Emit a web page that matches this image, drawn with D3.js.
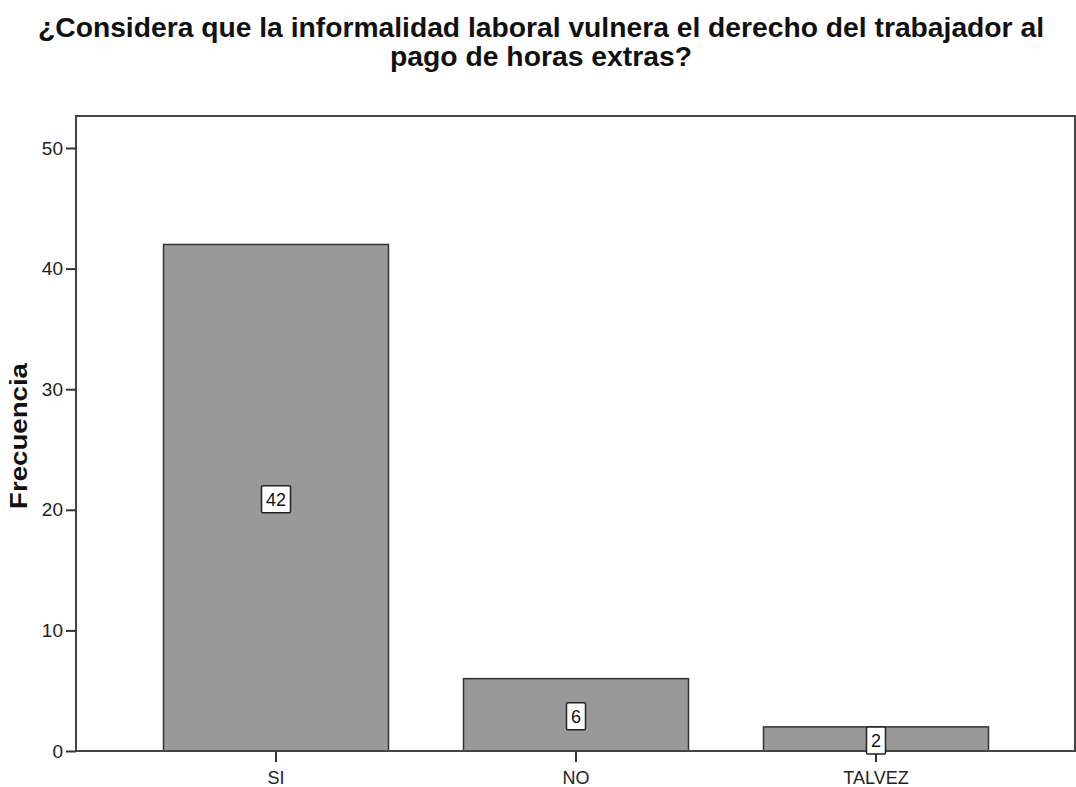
<!DOCTYPE html>
<html><head><meta charset="utf-8">
<script src="https://cdn.jsdelivr.net/npm/d3@7"></script>
<style>body{margin:0;background:#fff}svg{display:block}text{font-family:"Liberation Sans",Arial,sans-serif}</style>
</head><body>
<svg id="c" width="1076" height="787"></svg>
<script>
const categories = ["SI", "NO", "TALVEZ"];
const values = [42, 6, 2];
const yTicks = [0, 10, 20, 30, 40, 50];
const titleLines = ["¿Considera que la informalidad laboral vulnera el derecho del trabajador al", "pago de horas extras?"];
const yLabel = "Frecuencia";

const svg = d3.select("#c");
const L = 76, R = 1076, T = 116, B = 751;
const x = d3.scaleBand().domain(categories).range([L, R]).paddingInner(0.25).paddingOuter(0.2917);
const y = d3.scaleLinear().domain([0, 50]).range([B, B - 603]);

// title
svg.append("g").selectAll("text").data(titleLines).join("text")
  .attr("x", 541).attr("y", (d, i) => 37 + i * 29)
  .attr("text-anchor", "middle").attr("font-size", 27).attr("font-weight", "bold").attr("fill", "#111")
  .attr("textLength", (d, i) => i === 0 ? 1006 : 302).attr("lengthAdjust", "spacingAndGlyphs")
  .text(d => d);

// frame
svg.append("path").attr("d", `M${L},${B}V${T}H${R - 1}V${B}`).attr("fill", "none").attr("stroke", "#444").attr("stroke-width", 2);

// bars
svg.append("g").selectAll("rect").data(values).join("rect")
  .attr("x", (d, i) => x(categories[i])).attr("width", x.bandwidth())
  .attr("y", d => y(d)).attr("height", d => y(0) - y(d))
  .attr("fill", "#999999").attr("stroke", "#333").attr("stroke-width", 1.5);

// axes
const ya = svg.append("g").attr("transform", `translate(${L},0)`)
  .call(d3.axisLeft(y).tickValues(yTicks).tickSize(10).tickPadding(3));
ya.select(".domain").remove();
ya.selectAll("line").attr("stroke", "#333").attr("stroke-width", 2);
ya.selectAll("text").attr("font-size", 19).attr("fill", "#222").style("font-family", "Liberation Sans, Arial, sans-serif");

const xa = svg.append("g").attr("transform", `translate(0,${B})`)
  .call(d3.axisBottom(x).tickSize(11).tickPadding(9));
xa.select(".domain").remove();
xa.selectAll("line").attr("stroke", "#333").attr("stroke-width", 2);
xa.selectAll("text").attr("font-size", 18).attr("fill", "#222").style("font-family", "Liberation Sans, Arial, sans-serif");

// baseline
svg.append("line").attr("x1", L).attr("x2", R).attr("y1", B).attr("y2", B).attr("stroke", "#444").attr("stroke-width", 2);

// y label
svg.append("text").attr("transform", `translate(27,${436}) rotate(-90)`)
  .attr("text-anchor", "middle").attr("font-size", 23).attr("font-weight", "bold").attr("fill", "#111")
  .attr("textLength", 146).attr("lengthAdjust", "spacingAndGlyphs").text(yLabel);

// value labels
const lg = svg.append("g").selectAll("g").data(values).join("g")
  .attr("transform", (d, i) => `translate(${x(categories[i]) + x.bandwidth() / 2},${y(d / 2) + 2})`);
lg.append("rect").attr("x", d => -(String(d).length * 10 + 9) / 2).attr("width", d => String(d).length * 10 + 9)
  .attr("y", -14).attr("height", 27).attr("fill", "#fff").attr("stroke", "#222").attr("stroke-width", 1.5).attr("rx", 1.5);
lg.append("text").attr("text-anchor", "middle").attr("dy", "0.36em").attr("font-size", 18).attr("fill", "#111").text(d => d);
</script>
</body></html>
